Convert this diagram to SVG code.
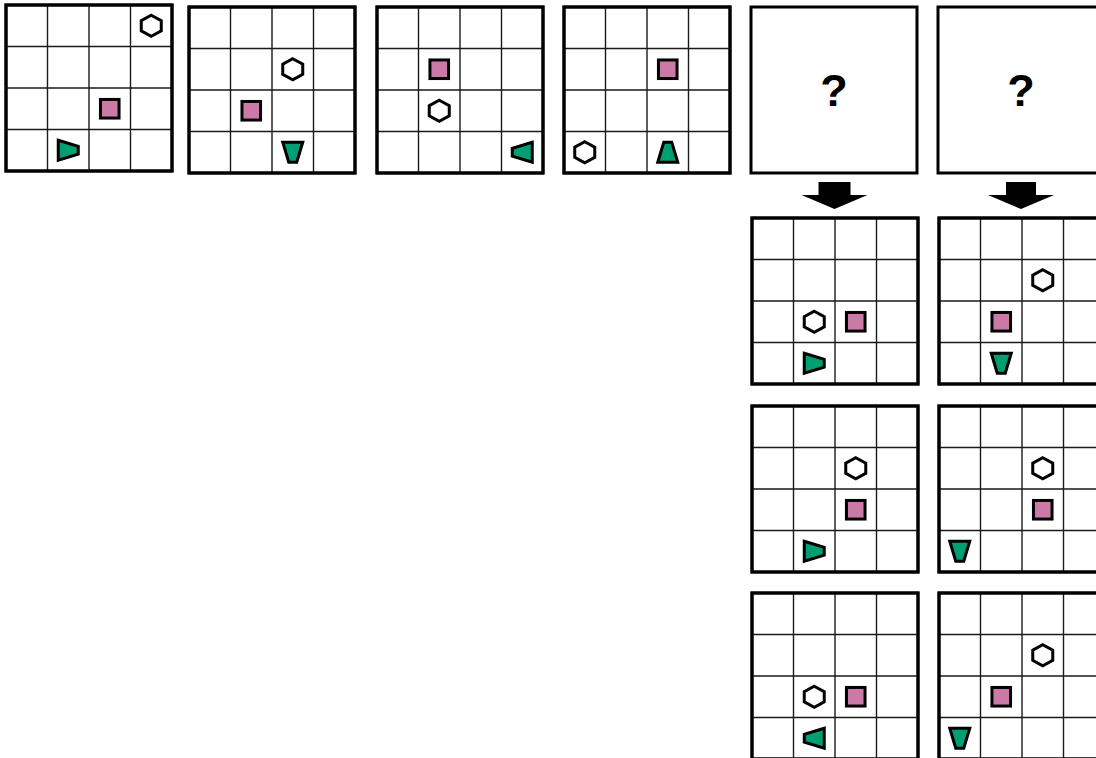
<svg xmlns="http://www.w3.org/2000/svg" xmlns:xlink="http://www.w3.org/1999/xlink" width="1096" height="758" viewBox="0 0 1096 758">
<style>
.frame{fill:#fff;stroke:#000;stroke-width:3}
.grid{stroke:#1a1a1a;stroke-width:1.4;fill:none}
.hex{fill:#fff;stroke:#000;stroke-width:3;stroke-linejoin:miter}
.sq{fill:#CC79A7;stroke:#000;stroke-width:3}
.tr{fill:#009E73;stroke:#000;stroke-width:3;stroke-linejoin:miter}
.q{font-family:"Liberation Sans",Arial,sans-serif;font-weight:bold;font-size:45px;fill:#000}
.arrow{fill:#000}
</style>
<defs>
<g id="board">
<rect class="frame" x="0" y="0" width="166" height="166"/>
<path class="grid" d="M41.5 0V166M83 0V166M124.5 0V166M0 41.5H166M0 83H166M0 124.5H166"/>
<rect x="0" y="0" width="166" height="166" fill="none" stroke="#000" stroke-width="3"/>
</g>
<polygon id="hex" class="hex" points="0,-10.5 10,-5.2 10,5.2 0,10.5 -10,5.2 -10,-5.2"/>
<rect id="sq" class="sq" x="-9.3" y="-9.3" width="18.6" height="18.6"/>
<polygon id="trR" class="tr" points="-10,-10 10,-4 10,4 -10,10"/>
<polygon id="trD" class="tr" points="-10,-10 10,-10 4,10 -4,10"/>
<polygon id="trL" class="tr" points="10,-10 -10,-4 -10,4 10,10"/>
<polygon id="trU" class="tr" points="-4,-10 4,-10 10,10 -10,10"/>
</defs>
<rect width="1096" height="758" fill="#fff"/>

<g id="p1" transform="translate(6,5)">
<use href="#board"/>
<use href="#hex" x="145.25" y="20.75"/>
<use href="#sq" x="103.75" y="103.75"/>
<use href="#trR" x="62.25" y="145.25"/>
</g>
<g id="p2" transform="translate(189,7)">
<use href="#board"/>
<use href="#hex" x="103.75" y="62.25"/>
<use href="#sq" x="62.25" y="103.75"/>
<use href="#trD" x="103.75" y="145.25"/>
</g>
<g id="p3" transform="translate(377,7)">
<use href="#board"/>
<use href="#sq" x="62.25" y="62.25"/>
<use href="#hex" x="62.25" y="103.75"/>
<use href="#trL" x="145.25" y="145.25"/>
</g>
<g id="p4" transform="translate(564,7)">
<use href="#board"/>
<use href="#sq" x="103.75" y="62.25"/>
<use href="#hex" x="20.75" y="145.25"/>
<use href="#trU" x="103.75" y="145.25"/>
</g>
<g id="q1" transform="translate(751,7)">
<rect class="frame" x="0" y="0" width="166" height="166"/>
<text class="q" x="83" y="99" text-anchor="middle">?</text>
</g>
<g id="q2" transform="translate(938,7)">
<rect class="frame" x="0" y="0" width="166" height="166"/>
<text class="q" x="83" y="99" text-anchor="middle">?</text>
</g>
<g id="o1" transform="translate(752,218)">
<use href="#board"/>
<use href="#hex" x="62.25" y="103.75"/>
<use href="#sq" x="103.75" y="103.75"/>
<use href="#trR" x="62.25" y="145.25"/>
</g>
<g id="o2" transform="translate(939,218)">
<use href="#board"/>
<use href="#hex" x="103.75" y="62.25"/>
<use href="#sq" x="62.25" y="103.75"/>
<use href="#trD" x="62.25" y="145.25"/>
</g>
<g id="o3" transform="translate(752,406)">
<use href="#board"/>
<use href="#hex" x="103.75" y="62.25"/>
<use href="#sq" x="103.75" y="103.75"/>
<use href="#trR" x="62.25" y="145.25"/>
</g>
<g id="o4" transform="translate(939,406)">
<use href="#board"/>
<use href="#hex" x="103.75" y="62.25"/>
<use href="#sq" x="103.75" y="103.75"/>
<use href="#trD" x="20.75" y="145.25"/>
</g>
<g id="o5" transform="translate(752,593)">
<use href="#board"/>
<use href="#hex" x="62.25" y="103.75"/>
<use href="#sq" x="103.75" y="103.75"/>
<use href="#trL" x="62.25" y="145.25"/>
</g>
<g id="o6" transform="translate(939,593)">
<use href="#board"/>
<use href="#hex" x="103.75" y="62.25"/>
<use href="#sq" x="62.25" y="103.75"/>
<use href="#trD" x="20.75" y="145.25"/>
</g>

<g id="connectors">
<polygon class="arrow" points="818.5,182 850.5,182 850.5,195 867.5,195 834.5,209 801.5,195 818.5,195"/>
<polygon class="arrow" points="1006,182 1036,182 1036,195 1054,195 1021,209 988,195 1006,195"/>
</g>
</svg>
